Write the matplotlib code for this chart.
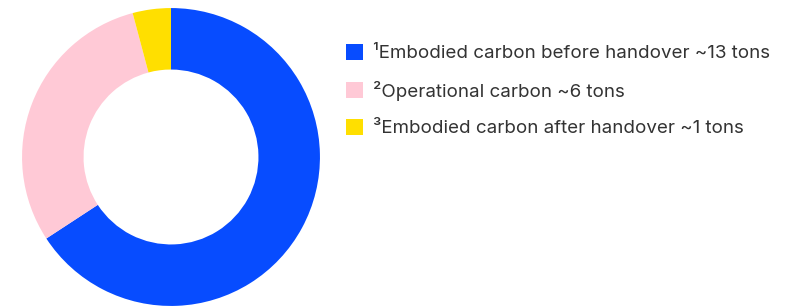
import matplotlib
matplotlib.use("Agg")
import matplotlib.pyplot as plt
from matplotlib.patches import Patch

labels = ["¹Embodied carbon before handover ~13 tons",
          "²Operational carbon ~6 tons",
          "³Embodied carbon after handover ~1 tons"]
values = [13.17, 6.02, 0.83]
colors = ["#074CFF", "#FFC9D6", "#FFDF00"]

plt.rcParams['font.family'] = ['Inter', 'DejaVu Sans']

fig = plt.figure(figsize=(7.87, 3.07), dpi=100)
W, H = 787, 307

# donut axes, centre ~ (171, 157) px
ax = fig.add_axes([(171 - 150) / W, (150 - 150) / H, 300 / W, 300 / H])
ax.pie(values, colors=colors, startangle=90, counterclock=False, radius=0.993,
       wedgeprops=dict(width=0.41, linewidth=0))
ax.set_xlim(-1, 1)
ax.set_ylim(-1, 1)
ax.set_aspect('equal')
ax.axis('off')

handles = [Patch(facecolor=c, edgecolor='none') for c in colors]
fig.legend(handles, labels, loc='upper left',
           bbox_to_anchor=(346 / W, 1 - 44 / H), frameon=False,
           fontsize=13.5, labelcolor='#333333',
           handlelength=0.9, handleheight=0.9, handletextpad=0.53,
           labelspacing=0.98, borderaxespad=0, borderpad=0)

plt.savefig("out.png", dpi=100)
